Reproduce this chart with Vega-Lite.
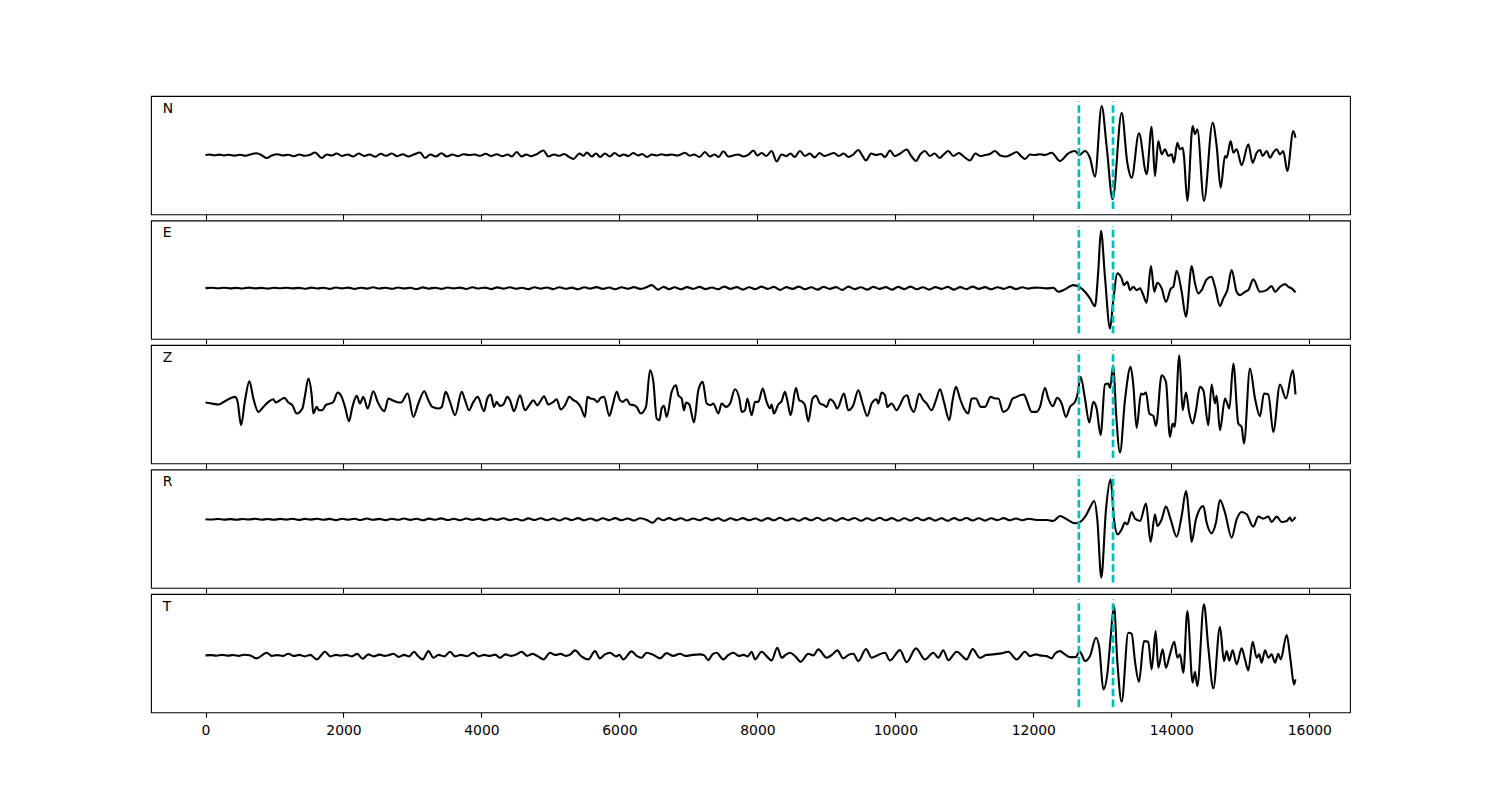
{
"$schema": "https://vega.github.io/schema/vega-lite/v6.json",
"background": "white",
"padding": {"left": 150, "top": 95, "right": 0, "bottom": 0},
"bounds": "flush",
"spacing": 5.5,
"config": {"view": {"stroke": "black", "strokeWidth": 1.1}, "text": {"font": "DejaVu Sans"}},
"datasets": {
"picks": [{"t": 12660}, {"t": 13155}],
"N": [{"t":0,"a":0},{"t":60,"a":0.5},{"t":130,"a":-0.3},{"t":200,"a":0.4},{"t":270,"a":-0.5},{"t":340,"a":0.3},{"t":420,"a":-0.6},{"t":500,"a":0.2},{"t":580,"a":-0.8},{"t":650,"a":0.5},{"t":742,"a":1.8},{"t":820,"a":-0.5},{"t":887,"a":-3},{"t":960,"a":-0.5},{"t":1040,"a":0.8},{"t":1120,"a":-0.5},{"t":1200,"a":0.3},{"t":1280,"a":-1.2},{"t":1360,"a":0.5},{"t":1440,"a":-0.8},{"t":1520,"a":0.3},{"t":1588,"a":2.5},{"t":1684,"a":-3},{"t":1760,"a":0.5},{"t":1830,"a":-0.5},{"t":1902,"a":1.5},{"t":1980,"a":-1},{"t":2060,"a":0.5},{"t":2140,"a":-1.5},{"t":2220,"a":1.5},{"t":2300,"a":-1},{"t":2380,"a":0.5},{"t":2460,"a":-1.8},{"t":2540,"a":1.2},{"t":2620,"a":-0.8},{"t":2700,"a":1.5},{"t":2780,"a":-1.2},{"t":2860,"a":0.8},{"t":2940,"a":-1.5},{"t":3020,"a":0.5},{"t":3110,"a":2.5},{"t":3182,"a":-3},{"t":3260,"a":0.5},{"t":3340,"a":-1.5},{"t":3420,"a":1.8},{"t":3500,"a":-1.5},{"t":3580,"a":0.5},{"t":3660,"a":-1.2},{"t":3740,"a":0.8},{"t":3820,"a":0},{"t":3900,"a":0.5},{"t":3980,"a":-0.8},{"t":4060,"a":1.2},{"t":4140,"a":-1},{"t":4220,"a":0.8},{"t":4300,"a":-1.2},{"t":4380,"a":0.5},{"t":4440,"a":-1.5},{"t":4511,"a":3},{"t":4580,"a":-1.5},{"t":4650,"a":0.5},{"t":4720,"a":-1.2},{"t":4800,"a":0.8},{"t":4898,"a":4.5},{"t":4970,"a":-1.5},{"t":5050,"a":0.5},{"t":5130,"a":-0.8},{"t":5200,"a":1},{"t":5260,"a":-1.5},{"t":5333,"a":-4},{"t":5420,"a":1.5},{"t":5480,"a":-0.8},{"t":5526,"a":2.5},{"t":5600,"a":-1.5},{"t":5660,"a":1.5},{"t":5720,"a":-2},{"t":5790,"a":1.5},{"t":5860,"a":-1.5},{"t":5930,"a":2},{"t":6000,"a":-1},{"t":6060,"a":0.5},{"t":6130,"a":-1},{"t":6200,"a":2},{"t":6270,"a":-0.5},{"t":6330,"a":1},{"t":6400,"a":-2},{"t":6470,"a":0.5},{"t":6540,"a":-0.5},{"t":6610,"a":0.8},{"t":6680,"a":-0.3},{"t":6760,"a":0.5},{"t":6830,"a":-0.5},{"t":6880,"a":0.3},{"t":6950,"a":2.2},{"t":7020,"a":-0.8},{"t":7080,"a":0.5},{"t":7160,"a":-2},{"t":7240,"a":3},{"t":7310,"a":-1.5},{"t":7380,"a":0.5},{"t":7440,"a":-2},{"t":7506,"a":3.8},{"t":7580,"a":-1.5},{"t":7650,"a":-0.5},{"t":7720,"a":0.5},{"t":7800,"a":-1.5},{"t":7870,"a":0.3},{"t":7941,"a":4.5},{"t":8000,"a":-0.5},{"t":8060,"a":2},{"t":8130,"a":-1},{"t":8206,"a":4},{"t":8279,"a":-6.5},{"t":8350,"a":0.5},{"t":8420,"a":-1},{"t":8480,"a":1.5},{"t":8540,"a":-2},{"t":8617,"a":4},{"t":8690,"a":-1},{"t":8760,"a":1.5},{"t":8830,"a":-2.5},{"t":8900,"a":2},{"t":8970,"a":-1},{"t":9040,"a":0.5},{"t":9110,"a":2},{"t":9180,"a":-1},{"t":9250,"a":1.5},{"t":9320,"a":-2},{"t":9390,"a":0.5},{"t":9463,"a":5},{"t":9520,"a":-0.5},{"t":9574,"a":-5.5},{"t":9650,"a":1.5},{"t":9720,"a":0},{"t":9790,"a":1},{"t":9850,"a":-2},{"t":9922,"a":4.5},{"t":9990,"a":-1},{"t":10060,"a":1},{"t":10163,"a":5.5},{"t":10230,"a":-1},{"t":10299,"a":-6},{"t":10360,"a":0.5},{"t":10429,"a":4},{"t":10500,"a":-1},{"t":10570,"a":1.5},{"t":10640,"a":-3},{"t":10700,"a":0.5},{"t":10767,"a":4},{"t":10840,"a":-1},{"t":10920,"a":2},{"t":10990,"a":-1.5},{"t":11081,"a":-5.5},{"t":11160,"a":1.5},{"t":11230,"a":-1},{"t":11300,"a":0},{"t":11370,"a":1},{"t":11444,"a":4},{"t":11520,"a":-0.5},{"t":11600,"a":-1.5},{"t":11680,"a":0.5},{"t":11758,"a":3},{"t":11820,"a":-1},{"t":11879,"a":-4},{"t":11950,"a":0.5},{"t":12020,"a":0},{"t":12096,"a":0.7},{"t":12168,"a":0},{"t":12265,"a":2.3},{"t":12386,"a":-6},{"t":12507,"a":1.7},{"t":12603,"a":4},{"t":12666,"a":0},{"t":12748,"a":4},{"t":12821,"a":-3},{"t":12893,"a":-21.7},{"t":12990,"a":49},{"t":13062,"a":9},{"t":13149,"a":-44.3},{"t":13280,"a":42.3},{"t":13362,"a":-7.7},{"t":13425,"a":-22.7},{"t":13531,"a":21.7},{"t":13642,"a":-19.3},{"t":13715,"a":28.3},{"t":13763,"a":-21},{"t":13811,"a":14},{"t":13860,"a":0.7},{"t":13908,"a":5.7},{"t":13956,"a":-1},{"t":14005,"a":0.7},{"t":14038,"a":-7.7},{"t":14087,"a":12.3},{"t":14125,"a":5.7},{"t":14164,"a":7.3},{"t":14183,"a":-1},{"t":14232,"a":-46},{"t":14309,"a":29},{"t":14343,"a":20.7},{"t":14377,"a":25.7},{"t":14473,"a":-46},{"t":14599,"a":32.3},{"t":14657,"a":9},{"t":14715,"a":-32.7},{"t":14778,"a":-1},{"t":14802,"a":-2.7},{"t":14860,"a":14},{"t":14899,"a":2.3},{"t":14947,"a":5.7},{"t":15019,"a":-10.3},{"t":15116,"a":10.7},{"t":15179,"a":-7.7},{"t":15237,"a":2.3},{"t":15285,"a":5},{"t":15324,"a":-1},{"t":15382,"a":4},{"t":15430,"a":-2.7},{"t":15478,"a":2.3},{"t":15527,"a":5.7},{"t":15575,"a":0.7},{"t":15623,"a":4},{"t":15681,"a":-16},{"t":15768,"a":24},{"t":15800,"a":17.3}],
"E": [{"t":0,"a":0},{"t":90,"a":0.3},{"t":180,"a":-0.2},{"t":270,"a":0.4},{"t":360,"a":-0.3},{"t":450,"a":0.2},{"t":540,"a":-0.4},{"t":630,"a":0.5},{"t":720,"a":-0.3},{"t":810,"a":0.2},{"t":900,"a":-0.5},{"t":990,"a":0.3},{"t":1080,"a":-0.2},{"t":1170,"a":0.4},{"t":1260,"a":-0.3},{"t":1350,"a":0.2},{"t":1440,"a":-0.6},{"t":1530,"a":0.5},{"t":1620,"a":-0.4},{"t":1710,"a":0.3},{"t":1800,"a":-0.8},{"t":1890,"a":0.6},{"t":1980,"a":-0.3},{"t":2070,"a":0.5},{"t":2160,"a":-0.8},{"t":2250,"a":0.4},{"t":2340,"a":-0.5},{"t":2430,"a":0.8},{"t":2520,"a":-0.4},{"t":2610,"a":0.3},{"t":2700,"a":-0.7},{"t":2790,"a":0.6},{"t":2880,"a":-0.4},{"t":2970,"a":0.3},{"t":3060,"a":-0.9},{"t":3150,"a":0.7},{"t":3240,"a":-0.5},{"t":3330,"a":0.4},{"t":3420,"a":-0.8},{"t":3510,"a":0.6},{"t":3600,"a":-0.3},{"t":3690,"a":0.5},{"t":3780,"a":-0.9},{"t":3870,"a":0.8},{"t":3960,"a":-0.4},{"t":4050,"a":0.5},{"t":4140,"a":-1},{"t":4230,"a":0.7},{"t":4320,"a":-0.5},{"t":4410,"a":0.9},{"t":4500,"a":-0.6},{"t":4590,"a":0.4},{"t":4680,"a":-1},{"t":4770,"a":0.8},{"t":4860,"a":-0.5},{"t":4950,"a":0.6},{"t":5040,"a":-1},{"t":5130,"a":0.9},{"t":5220,"a":-0.6},{"t":5310,"a":0.5},{"t":5400,"a":-1.2},{"t":5490,"a":0.8},{"t":5580,"a":-0.5},{"t":5670,"a":1},{"t":5760,"a":-0.8},{"t":5850,"a":0.6},{"t":5940,"a":-1.2},{"t":6030,"a":0.9},{"t":6120,"a":-0.6},{"t":6210,"a":1},{"t":6300,"a":-0.8},{"t":6380,"a":0.5},{"t":6470,"a":3},{"t":6560,"a":-1.5},{"t":6640,"a":1.2},{"t":6720,"a":-1},{"t":6800,"a":0.8},{"t":6890,"a":-1.2},{"t":6980,"a":1},{"t":7070,"a":-0.8},{"t":7160,"a":1.2},{"t":7250,"a":-1},{"t":7340,"a":0.6},{"t":7430,"a":-1.2},{"t":7520,"a":1.5},{"t":7610,"a":-0.8},{"t":7700,"a":1},{"t":7790,"a":-1.5},{"t":7880,"a":0.8},{"t":7970,"a":-1},{"t":8060,"a":1.5},{"t":8150,"a":-0.8},{"t":8240,"a":1.2},{"t":8330,"a":-1.8},{"t":8420,"a":1},{"t":8510,"a":-0.8},{"t":8600,"a":1.5},{"t":8690,"a":-1.2},{"t":8780,"a":0.8},{"t":8870,"a":-1.5},{"t":8960,"a":1.2},{"t":9050,"a":-0.8},{"t":9140,"a":1},{"t":9230,"a":-1.8},{"t":9320,"a":1.5},{"t":9410,"a":-1},{"t":9500,"a":0.8},{"t":9590,"a":-1.5},{"t":9680,"a":1.2},{"t":9770,"a":-0.8},{"t":9860,"a":1},{"t":9950,"a":-1.5},{"t":10040,"a":1.2},{"t":10130,"a":-1},{"t":10220,"a":1.5},{"t":10310,"a":-1.2},{"t":10400,"a":0.8},{"t":10490,"a":-1.5},{"t":10580,"a":1},{"t":10670,"a":-0.8},{"t":10760,"a":1.2},{"t":10850,"a":-1.5},{"t":10940,"a":1},{"t":11030,"a":-1},{"t":11120,"a":1.5},{"t":11210,"a":-0.8},{"t":11300,"a":1},{"t":11390,"a":-1.2},{"t":11480,"a":0.8},{"t":11570,"a":-0.8},{"t":11660,"a":1.2},{"t":11750,"a":-1},{"t":11840,"a":0.8},{"t":11930,"a":-0.5},{"t":12020,"a":0.5},{"t":12096,"a":0.3},{"t":12193,"a":-0.3},{"t":12289,"a":0.3},{"t":12362,"a":-3.7},{"t":12458,"a":-1.3},{"t":12579,"a":3},{"t":12666,"a":1.3},{"t":12748,"a":-3.7},{"t":12821,"a":-10.3},{"t":12893,"a":-18},{"t":12942,"a":18},{"t":12980,"a":57.3},{"t":13038,"a":11.3},{"t":13111,"a":-40.3},{"t":13159,"a":-12},{"t":13217,"a":14.7},{"t":13280,"a":9.7},{"t":13314,"a":3},{"t":13362,"a":6.3},{"t":13401,"a":-2},{"t":13449,"a":1.3},{"t":13497,"a":-2},{"t":13546,"a":-0.3},{"t":13594,"a":-7},{"t":13642,"a":-14.7},{"t":13705,"a":22},{"t":13753,"a":-3.7},{"t":13797,"a":5.3},{"t":13860,"a":-0.3},{"t":13922,"a":-13.7},{"t":13995,"a":-0.3},{"t":14029,"a":1.3},{"t":14077,"a":17.3},{"t":14150,"a":-3.7},{"t":14212,"a":-28.7},{"t":14295,"a":22},{"t":14343,"a":4.7},{"t":14391,"a":-5.3},{"t":14440,"a":-2},{"t":14512,"a":8.7},{"t":14584,"a":11.3},{"t":14633,"a":1.3},{"t":14705,"a":-18},{"t":14754,"a":-10.3},{"t":14812,"a":-2},{"t":14874,"a":18},{"t":14947,"a":-3.7},{"t":14995,"a":-7},{"t":15068,"a":-3.7},{"t":15116,"a":-2},{"t":15188,"a":8.7},{"t":15285,"a":-3.7},{"t":15382,"a":-2},{"t":15454,"a":2},{"t":15503,"a":-3.7},{"t":15575,"a":1.3},{"t":15648,"a":4},{"t":15696,"a":1.3},{"t":15744,"a":-0.3},{"t":15800,"a":-4.3}],
"Z": [{"t":0,"a":0.7},{"t":90,"a":-0.3},{"t":186,"a":-1.3},{"t":283,"a":2},{"t":370,"a":5.3},{"t":428,"a":6.3},{"t":466,"a":1.3},{"t":515,"a":-22},{"t":573,"a":3},{"t":636,"a":22},{"t":694,"a":4.7},{"t":766,"a":-8.7},{"t":839,"a":-3.7},{"t":911,"a":1.3},{"t":984,"a":4},{"t":1017,"a":0.7},{"t":1080,"a":3},{"t":1143,"a":5.3},{"t":1201,"a":0.7},{"t":1259,"a":-2},{"t":1322,"a":-10.3},{"t":1404,"a":-5.3},{"t":1443,"a":8},{"t":1491,"a":24.7},{"t":1539,"a":8},{"t":1563,"a":-10.3},{"t":1612,"a":-3.7},{"t":1645,"a":-7},{"t":1694,"a":-7},{"t":1742,"a":-2},{"t":1805,"a":-0.3},{"t":1853,"a":1.3},{"t":1916,"a":10.7},{"t":1974,"a":6.3},{"t":2022,"a":-3.7},{"t":2080,"a":-18},{"t":2129,"a":-3.7},{"t":2192,"a":7.3},{"t":2240,"a":-0.3},{"t":2288,"a":6.3},{"t":2351,"a":-5.3},{"t":2433,"a":12},{"t":2496,"a":1.3},{"t":2593,"a":-8},{"t":2651,"a":4.7},{"t":2709,"a":3},{"t":2771,"a":1.3},{"t":2834,"a":0.7},{"t":2931,"a":9.7},{"t":3013,"a":-13.7},{"t":3085,"a":-0.3},{"t":3172,"a":12},{"t":3230,"a":3},{"t":3288,"a":-3.7},{"t":3375,"a":-5.3},{"t":3424,"a":-3.7},{"t":3482,"a":11.3},{"t":3544,"a":1.3},{"t":3617,"a":-12},{"t":3714,"a":11.3},{"t":3762,"a":3},{"t":3820,"a":-7},{"t":3883,"a":1.3},{"t":3946,"a":6.3},{"t":4037,"a":-8},{"t":4085,"a":4.7},{"t":4134,"a":8.7},{"t":4182,"a":-3.7},{"t":4221,"a":1.3},{"t":4269,"a":-2.7},{"t":4317,"a":-1.3},{"t":4375,"a":6.3},{"t":4414,"a":3},{"t":4472,"a":-8},{"t":4559,"a":8},{"t":4631,"a":-7},{"t":4694,"a":-2},{"t":4752,"a":3},{"t":4810,"a":-2},{"t":4849,"a":1.3},{"t":4907,"a":7},{"t":4970,"a":-1.3},{"t":5042,"a":1.3},{"t":5090,"a":4},{"t":5148,"a":-6.3},{"t":5211,"a":-2},{"t":5274,"a":6.3},{"t":5332,"a":3},{"t":5390,"a":0.7},{"t":5438,"a":-3.7},{"t":5501,"a":-13.7},{"t":5535,"a":6.3},{"t":5583,"a":4.7},{"t":5632,"a":4},{"t":5680,"a":1.3},{"t":5728,"a":5.3},{"t":5776,"a":6.3},{"t":5854,"a":-12.7},{"t":5902,"a":-2},{"t":5960,"a":11.3},{"t":6008,"a":3},{"t":6047,"a":1.3},{"t":6105,"a":4},{"t":6153,"a":-1.3},{"t":6211,"a":-2},{"t":6250,"a":-3.7},{"t":6308,"a":-10.3},{"t":6385,"a":-3.7},{"t":6443,"a":33},{"t":6492,"a":21.3},{"t":6540,"a":-15.3},{"t":6579,"a":-17},{"t":6612,"a":-5.3},{"t":6646,"a":-2.7},{"t":6685,"a":-13.7},{"t":6757,"a":11.3},{"t":6820,"a":18},{"t":6854,"a":8},{"t":6902,"a":4.7},{"t":6936,"a":-7},{"t":6965,"a":0.7},{"t":7013,"a":-1.3},{"t":7081,"a":-19.3},{"t":7144,"a":13},{"t":7207,"a":21.3},{"t":7265,"a":-0.3},{"t":7323,"a":-2},{"t":7361,"a":-0.3},{"t":7434,"a":-10.3},{"t":7482,"a":-0.3},{"t":7545,"a":-3.7},{"t":7603,"a":-0.3},{"t":7675,"a":14},{"t":7738,"a":4.7},{"t":7772,"a":-8.7},{"t":7820,"a":-7},{"t":7854,"a":4.7},{"t":7917,"a":-12},{"t":7965,"a":1.3},{"t":8013,"a":1.3},{"t":8077,"a":14.7},{"t":8134,"a":1.3},{"t":8182,"a":-5.3},{"t":8206,"a":-1.3},{"t":8240,"a":-10.3},{"t":8303,"a":-1.3},{"t":8351,"a":2},{"t":8399,"a":11.3},{"t":8433,"a":3},{"t":8482,"a":-12},{"t":8559,"a":15.3},{"t":8607,"a":3},{"t":8655,"a":1.3},{"t":8689,"a":-2},{"t":8738,"a":-18},{"t":8800,"a":4.7},{"t":8849,"a":7.3},{"t":8907,"a":-0.3},{"t":8965,"a":-2},{"t":9003,"a":-3.7},{"t":9052,"a":4},{"t":9110,"a":0.7},{"t":9158,"a":-5.3},{"t":9255,"a":9.7},{"t":9317,"a":-7},{"t":9390,"a":-2},{"t":9462,"a":13},{"t":9525,"a":-0.3},{"t":9593,"a":-12.7},{"t":9656,"a":-0.3},{"t":9728,"a":4},{"t":9752,"a":-0.3},{"t":9801,"a":10.7},{"t":9849,"a":8},{"t":9883,"a":-3.7},{"t":9946,"a":-0.3},{"t":10018,"a":-7},{"t":10066,"a":-2},{"t":10124,"a":6.3},{"t":10173,"a":8},{"t":10211,"a":-2},{"t":10269,"a":-8.7},{"t":10347,"a":9.3},{"t":10405,"a":3},{"t":10453,"a":-0.3},{"t":10525,"a":-7},{"t":10588,"a":3},{"t":10646,"a":14},{"t":10704,"a":1.3},{"t":10782,"a":-17},{"t":10830,"a":3},{"t":10878,"a":16.3},{"t":10936,"a":4.7},{"t":10994,"a":-5.3},{"t":11057,"a":-10.3},{"t":11105,"a":4.7},{"t":11168,"a":4.7},{"t":11236,"a":-3.7},{"t":11299,"a":-3.7},{"t":11381,"a":6.3},{"t":11444,"a":4.7},{"t":11492,"a":4.7},{"t":11564,"a":-8.7},{"t":11637,"a":-5.3},{"t":11700,"a":4.7},{"t":11758,"a":6.3},{"t":11806,"a":8},{"t":11864,"a":8.7},{"t":11903,"a":3},{"t":11975,"a":-8.7},{"t":12048,"a":-8.7},{"t":12096,"a":-3.7},{"t":12168,"a":15.3},{"t":12217,"a":4.7},{"t":12280,"a":-3},{"t":12347,"a":5.3},{"t":12410,"a":-0.3},{"t":12473,"a":-13.7},{"t":12531,"a":-3.7},{"t":12603,"a":1.3},{"t":12637,"a":8},{"t":12686,"a":26.3},{"t":12748,"a":4.7},{"t":12811,"a":-19.3},{"t":12869,"a":1.3},{"t":12917,"a":-5.3},{"t":12975,"a":-32},{"t":13038,"a":18.7},{"t":13087,"a":19.7},{"t":13111,"a":15.3},{"t":13159,"a":38},{"t":13198,"a":-8.7},{"t":13256,"a":-49.3},{"t":13328,"a":3},{"t":13410,"a":36.3},{"t":13449,"a":18},{"t":13497,"a":-24.7},{"t":13560,"a":9.7},{"t":13594,"a":8.7},{"t":13633,"a":10.7},{"t":13681,"a":-10.3},{"t":13739,"a":-12.7},{"t":13777,"a":-22.7},{"t":13860,"a":28},{"t":13922,"a":21.3},{"t":13980,"a":-33.7},{"t":14019,"a":-20.3},{"t":14048,"a":-23.7},{"t":14116,"a":48},{"t":14164,"a":-7},{"t":14212,"a":10.7},{"t":14261,"a":-10.3},{"t":14309,"a":-20.3},{"t":14357,"a":-7},{"t":14415,"a":16.3},{"t":14464,"a":13},{"t":14536,"a":-22},{"t":14584,"a":18.7},{"t":14633,"a":-0.3},{"t":14657,"a":7.3},{"t":14705,"a":-27},{"t":14778,"a":4.7},{"t":14841,"a":-5.3},{"t":14899,"a":39.7},{"t":14971,"a":-20.3},{"t":15019,"a":-23.7},{"t":15053,"a":-40.3},{"t":15140,"a":34.7},{"t":15213,"a":4.7},{"t":15285,"a":-13},{"t":15343,"a":9.7},{"t":15406,"a":8.7},{"t":15478,"a":-28.7},{"t":15575,"a":18.7},{"t":15662,"a":4.7},{"t":15759,"a":33},{"t":15800,"a":8.7}],
"R": [{"t":0,"a":0},{"t":90,"a":-0.2},{"t":180,"a":0.3},{"t":270,"a":-0.3},{"t":360,"a":0.2},{"t":450,"a":-0.4},{"t":540,"a":0.3},{"t":630,"a":-0.2},{"t":720,"a":0.5},{"t":810,"a":-0.4},{"t":900,"a":0.3},{"t":990,"a":-0.5},{"t":1080,"a":0.4},{"t":1170,"a":-0.3},{"t":1260,"a":0.5},{"t":1350,"a":-0.6},{"t":1440,"a":0.4},{"t":1530,"a":-0.3},{"t":1620,"a":0.6},{"t":1710,"a":-0.5},{"t":1800,"a":0.4},{"t":1890,"a":-0.8},{"t":1980,"a":0.6},{"t":2070,"a":-0.4},{"t":2160,"a":0.5},{"t":2250,"a":-0.7},{"t":2340,"a":0.8},{"t":2430,"a":-0.5},{"t":2520,"a":0.4},{"t":2610,"a":-0.8},{"t":2700,"a":0.6},{"t":2790,"a":-0.5},{"t":2880,"a":0.8},{"t":2970,"a":-0.6},{"t":3060,"a":0.5},{"t":3150,"a":-0.9},{"t":3240,"a":0.7},{"t":3330,"a":-0.5},{"t":3420,"a":0.9},{"t":3510,"a":-0.7},{"t":3600,"a":0.5},{"t":3690,"a":-1},{"t":3780,"a":0.8},{"t":3870,"a":-0.6},{"t":3960,"a":0.7},{"t":4050,"a":-1},{"t":4140,"a":0.8},{"t":4230,"a":-0.6},{"t":4320,"a":1},{"t":4410,"a":-0.8},{"t":4500,"a":0.6},{"t":4590,"a":-1.2},{"t":4680,"a":0.9},{"t":4770,"a":-0.7},{"t":4860,"a":1},{"t":4950,"a":-1},{"t":5040,"a":0.8},{"t":5130,"a":-1.2},{"t":5220,"a":1},{"t":5310,"a":-0.8},{"t":5400,"a":1.2},{"t":5490,"a":-1},{"t":5580,"a":0.8},{"t":5670,"a":-1.3},{"t":5760,"a":1},{"t":5850,"a":-0.8},{"t":5940,"a":1.2},{"t":6030,"a":-1},{"t":6120,"a":0.8},{"t":6210,"a":-1.2},{"t":6300,"a":1},{"t":6390,"a":-0.5},{"t":6480,"a":-3.5},{"t":6560,"a":1},{"t":6640,"a":-1},{"t":6720,"a":1.2},{"t":6800,"a":-0.8},{"t":6890,"a":1},{"t":6980,"a":-1.2},{"t":7070,"a":0.8},{"t":7160,"a":-1},{"t":7250,"a":1.3},{"t":7340,"a":-0.8},{"t":7430,"a":1},{"t":7520,"a":-1.5},{"t":7610,"a":1},{"t":7700,"a":-0.8},{"t":7790,"a":1.2},{"t":7880,"a":-1},{"t":7970,"a":0.8},{"t":8060,"a":-1.5},{"t":8150,"a":1.2},{"t":8240,"a":-1},{"t":8330,"a":1.5},{"t":8420,"a":-1.2},{"t":8510,"a":0.8},{"t":8600,"a":-1.5},{"t":8690,"a":1.2},{"t":8780,"a":-1},{"t":8870,"a":1.5},{"t":8960,"a":-1.2},{"t":9050,"a":1},{"t":9140,"a":-1.5},{"t":9230,"a":1.2},{"t":9320,"a":-0.8},{"t":9410,"a":1.3},{"t":9500,"a":-1.5},{"t":9590,"a":1},{"t":9680,"a":-1.2},{"t":9770,"a":1.5},{"t":9860,"a":-1},{"t":9950,"a":1.2},{"t":10040,"a":-1.5},{"t":10130,"a":1},{"t":10220,"a":-1.2},{"t":10310,"a":1.5},{"t":10400,"a":-1},{"t":10490,"a":1.2},{"t":10580,"a":-1.3},{"t":10670,"a":1},{"t":10760,"a":-1.5},{"t":10850,"a":1.2},{"t":10940,"a":-1},{"t":11030,"a":1.3},{"t":11120,"a":-1.2},{"t":11210,"a":1},{"t":11300,"a":-1.3},{"t":11390,"a":1},{"t":11480,"a":-0.8},{"t":11570,"a":1.2},{"t":11660,"a":-1},{"t":11750,"a":0.8},{"t":11840,"a":-1},{"t":11930,"a":0.5},{"t":12020,"a":-0.5},{"t":12096,"a":-0.7},{"t":12193,"a":-0.7},{"t":12289,"a":-1.7},{"t":12386,"a":3.3},{"t":12483,"a":0},{"t":12603,"a":-4},{"t":12676,"a":-2.7},{"t":12772,"a":5},{"t":12821,"a":11.7},{"t":12884,"a":18.3},{"t":12927,"a":0},{"t":12985,"a":-58.3},{"t":13053,"a":10},{"t":13120,"a":40},{"t":13169,"a":0},{"t":13222,"a":-15},{"t":13280,"a":-10},{"t":13328,"a":-3.3},{"t":13362,"a":-5},{"t":13425,"a":7.3},{"t":13473,"a":0.7},{"t":13546,"a":-1.7},{"t":13633,"a":15.7},{"t":13700,"a":-22.7},{"t":13763,"a":5},{"t":13797,"a":-6.7},{"t":13860,"a":0},{"t":13922,"a":12.7},{"t":13990,"a":0},{"t":14077,"a":-17.3},{"t":14150,"a":3.3},{"t":14212,"a":28.3},{"t":14270,"a":-6.7},{"t":14295,"a":-22.7},{"t":14357,"a":0},{"t":14464,"a":13.3},{"t":14512,"a":-3.3},{"t":14584,"a":-14},{"t":14647,"a":-3.3},{"t":14705,"a":19.3},{"t":14778,"a":6.7},{"t":14874,"a":-18.3},{"t":14947,"a":0},{"t":15019,"a":7.3},{"t":15092,"a":5},{"t":15188,"a":-7.3},{"t":15261,"a":2.7},{"t":15333,"a":0.7},{"t":15406,"a":2.7},{"t":15454,"a":-2.7},{"t":15527,"a":2.7},{"t":15599,"a":-2.7},{"t":15672,"a":-1.7},{"t":15720,"a":1.7},{"t":15744,"a":-1.7},{"t":15800,"a":2.3}],
"T": [{"t":0,"a":0},{"t":80,"a":0.3},{"t":160,"a":-0.3},{"t":240,"a":0.5},{"t":320,"a":-0.3},{"t":400,"a":0.4},{"t":480,"a":-0.5},{"t":560,"a":0.6},{"t":640,"a":0.2},{"t":742,"a":-3},{"t":887,"a":2.7},{"t":960,"a":-0.5},{"t":1040,"a":0.3},{"t":1120,"a":-0.5},{"t":1201,"a":1.7},{"t":1280,"a":-0.5},{"t":1360,"a":0.5},{"t":1440,"a":-1},{"t":1520,"a":0.5},{"t":1612,"a":-4},{"t":1733,"a":3.7},{"t":1810,"a":-1},{"t":1890,"a":0.5},{"t":1960,"a":-0.3},{"t":2040,"a":0.5},{"t":2120,"a":-1},{"t":2200,"a":1.5},{"t":2279,"a":-3.3},{"t":2360,"a":1},{"t":2440,"a":-1},{"t":2520,"a":0.8},{"t":2600,"a":-0.5},{"t":2660,"a":0.3},{"t":2723,"a":1.7},{"t":2800,"a":-1.5},{"t":2880,"a":0.5},{"t":2950,"a":-1},{"t":3023,"a":3.7},{"t":3080,"a":-0.5},{"t":3149,"a":-4},{"t":3231,"a":4.3},{"t":3303,"a":-2.3},{"t":3380,"a":0.5},{"t":3460,"a":-1},{"t":3545,"a":3.7},{"t":3620,"a":-1},{"t":3700,"a":0.5},{"t":3790,"a":-0.8},{"t":3883,"a":2.7},{"t":3960,"a":-1},{"t":4040,"a":0.5},{"t":4120,"a":-0.5},{"t":4200,"a":0.8},{"t":4270,"a":-2.3},{"t":4350,"a":1},{"t":4430,"a":-0.5},{"t":4510,"a":1},{"t":4583,"a":3.7},{"t":4660,"a":-0.5},{"t":4740,"a":1.5},{"t":4820,"a":-1},{"t":4898,"a":-4},{"t":4994,"a":2.7},{"t":5070,"a":0.5},{"t":5150,"a":1.5},{"t":5220,"a":-0.5},{"t":5290,"a":1},{"t":5357,"a":5},{"t":5450,"a":-1},{"t":5550,"a":-4},{"t":5645,"a":4.3},{"t":5718,"a":-3},{"t":5790,"a":1},{"t":5863,"a":2.7},{"t":5950,"a":-1},{"t":6000,"a":0.5},{"t":6056,"a":-4},{"t":6177,"a":4},{"t":6250,"a":-0.5},{"t":6322,"a":-2.3},{"t":6394,"a":2.7},{"t":6490,"a":0.5},{"t":6588,"a":-3},{"t":6684,"a":2.3},{"t":6780,"a":-0.5},{"t":6878,"a":1.7},{"t":6960,"a":-0.5},{"t":7060,"a":0.5},{"t":7168,"a":1},{"t":7230,"a":0},{"t":7288,"a":-4.7},{"t":7350,"a":1},{"t":7409,"a":2.7},{"t":7506,"a":-4},{"t":7580,"a":0.5},{"t":7651,"a":2.7},{"t":7730,"a":-0.5},{"t":7800,"a":0.5},{"t":7860,"a":-1},{"t":7917,"a":3.7},{"t":7965,"a":-4},{"t":8062,"a":3.7},{"t":8130,"a":-0.5},{"t":8206,"a":-5},{"t":8289,"a":7.7},{"t":8352,"a":-2.3},{"t":8410,"a":0.5},{"t":8472,"a":2.7},{"t":8550,"a":-1},{"t":8627,"a":-6.3},{"t":8738,"a":1.7},{"t":8810,"a":0},{"t":8883,"a":6},{"t":9004,"a":-2.3},{"t":9080,"a":0.5},{"t":9158,"a":5},{"t":9245,"a":-3},{"t":9320,"a":0.5},{"t":9390,"a":1.7},{"t":9463,"a":-5.7},{"t":9574,"a":6.3},{"t":9656,"a":-2.3},{"t":9750,"a":0.5},{"t":9849,"a":2.7},{"t":9922,"a":-5},{"t":10067,"a":5.3},{"t":10163,"a":-6.7},{"t":10299,"a":7},{"t":10429,"a":-4},{"t":10550,"a":2.7},{"t":10622,"a":-2.3},{"t":10695,"a":5},{"t":10767,"a":-4.7},{"t":10888,"a":3.7},{"t":11033,"a":-4},{"t":11120,"a":6.3},{"t":11226,"a":-2.3},{"t":11320,"a":0.5},{"t":11420,"a":1},{"t":11530,"a":2},{"t":11637,"a":3.7},{"t":11758,"a":-4},{"t":11879,"a":3.7},{"t":11951,"a":-0.7},{"t":12000,"a":0.5},{"t":12048,"a":1},{"t":12096,"a":0},{"t":12193,"a":-0.7},{"t":12265,"a":-3},{"t":12313,"a":1.7},{"t":12386,"a":4.3},{"t":12458,"a":1},{"t":12531,"a":-1.7},{"t":12618,"a":-1.7},{"t":12666,"a":4.3},{"t":12700,"a":1},{"t":12748,"a":-5.7},{"t":12821,"a":-0.7},{"t":12908,"a":17.7},{"t":12956,"a":7.7},{"t":13014,"a":-34},{"t":13077,"a":-15.7},{"t":13120,"a":17.7},{"t":13169,"a":49.3},{"t":13217,"a":-5.7},{"t":13280,"a":-46.3},{"t":13376,"a":22.7},{"t":13425,"a":21.7},{"t":13473,"a":-5.7},{"t":13531,"a":-26.3},{"t":13604,"a":14.3},{"t":13666,"a":13.7},{"t":13715,"a":-14},{"t":13773,"a":24.3},{"t":13811,"a":-12.3},{"t":13874,"a":6},{"t":13922,"a":-12.3},{"t":13980,"a":1},{"t":14043,"a":13.7},{"t":14087,"a":-2.3},{"t":14125,"a":1},{"t":14174,"a":-17.3},{"t":14232,"a":44.3},{"t":14309,"a":-27.3},{"t":14343,"a":-16.3},{"t":14377,"a":-30.7},{"t":14473,"a":51},{"t":14536,"a":7.7},{"t":14609,"a":-33},{"t":14705,"a":28.7},{"t":14763,"a":-5.7},{"t":14802,"a":4.3},{"t":14841,"a":-5},{"t":14889,"a":5},{"t":14947,"a":-9},{"t":15019,"a":7},{"t":15068,"a":-4},{"t":15116,"a":-15},{"t":15179,"a":13.7},{"t":15237,"a":-2.3},{"t":15275,"a":1},{"t":15309,"a":-7.3},{"t":15358,"a":5},{"t":15406,"a":-2.3},{"t":15454,"a":1},{"t":15503,"a":-7.3},{"t":15551,"a":1.7},{"t":15585,"a":-4},{"t":15672,"a":20.3},{"t":15730,"a":-5.7},{"t":15778,"a":-29},{"t":15800,"a":-24}]
},
"vconcat": [
{
"width": 1199, "height": 118.4,
"layer": [
{"data": {"name": "N"}, "mark": {"type": "line", "color": "black", "strokeWidth": 2.1, "interpolate": "monotone"},
 "encoding": {"x": {"field": "t", "type": "quantitative", "scale": {"domain": [-790, 16590], "nice": false, "zero": false}, "axis": {"values": [0,2000,4000,6000,8000,10000,12000,14000,16000], "labels": false, "ticks": true, "tickSize": 4.9, "tickWidth": 1.1, "tickColor": "black", "domain": false, "grid": false, "title": null}},
  "y": {"field": "a", "type": "quantitative", "scale": {"domain": [-59.4, 59], "nice": false, "zero": false}, "axis": null}}},
{"data": {"name": "picks"}, "mark": {"type": "rule", "color": "#00bfbf", "strokeWidth": 2.7, "strokeDash": [7.5, 3.2]},
 "encoding": {"x": {"field": "t", "type": "quantitative"}, "y": {"datum": -54}, "y2": {"datum": 53.6}}},
{"data": {"values": [{"label": "N"}]}, "mark": {"type": "text", "align": "left", "baseline": "alphabetic", "font": "DejaVu Sans", "fontSize": 13.9, "color": "black"},
 "encoding": {"x": {"datum": -620}, "y": {"datum": 42.5}, "text": {"field": "label"}}}
]
},
{
"width": 1199, "height": 118.4,
"layer": [
{"data": {"name": "E"}, "mark": {"type": "line", "color": "black", "strokeWidth": 2.1, "interpolate": "monotone"},
 "encoding": {"x": {"field": "t", "type": "quantitative", "scale": {"domain": [-790, 16590], "nice": false, "zero": false}, "axis": {"values": [0,2000,4000,6000,8000,10000,12000,14000,16000], "labels": false, "ticks": true, "tickSize": 4.9, "tickWidth": 1.1, "tickColor": "black", "domain": false, "grid": false, "title": null}},
  "y": {"field": "a", "type": "quantitative", "scale": {"domain": [-50.8, 67.6], "nice": false, "zero": false}, "axis": null}}},
{"data": {"name": "picks"}, "mark": {"type": "rule", "color": "#00bfbf", "strokeWidth": 2.7, "strokeDash": [7.5, 3.2]},
 "encoding": {"x": {"field": "t", "type": "quantitative"}, "y": {"datum": -45.4}, "y2": {"datum": 62.2}}},
{"data": {"values": [{"label": "E"}]}, "mark": {"type": "text", "align": "left", "baseline": "alphabetic", "font": "DejaVu Sans", "fontSize": 13.9, "color": "black"},
 "encoding": {"x": {"datum": -620}, "y": {"datum": 51.1}, "text": {"field": "label"}}}
]
},
{
"width": 1199, "height": 118.4,
"layer": [
{"data": {"name": "Z"}, "mark": {"type": "line", "color": "black", "strokeWidth": 2.1, "interpolate": "monotone"},
 "encoding": {"x": {"field": "t", "type": "quantitative", "scale": {"domain": [-790, 16590], "nice": false, "zero": false}, "axis": {"values": [0,2000,4000,6000,8000,10000,12000,14000,16000], "labels": false, "ticks": true, "tickSize": 4.9, "tickWidth": 1.1, "tickColor": "black", "domain": false, "grid": false, "title": null}},
  "y": {"field": "a", "type": "quantitative", "scale": {"domain": [-60.2, 58.2], "nice": false, "zero": false}, "axis": null}}},
{"data": {"name": "picks"}, "mark": {"type": "rule", "color": "#00bfbf", "strokeWidth": 2.7, "strokeDash": [7.5, 3.2]},
 "encoding": {"x": {"field": "t", "type": "quantitative"}, "y": {"datum": -54.8}, "y2": {"datum": 52.8}}},
{"data": {"values": [{"label": "Z"}]}, "mark": {"type": "text", "align": "left", "baseline": "alphabetic", "font": "DejaVu Sans", "fontSize": 13.9, "color": "black"},
 "encoding": {"x": {"datum": -620}, "y": {"datum": 41.7}, "text": {"field": "label"}}}
]
},
{
"width": 1199, "height": 118.4,
"layer": [
{"data": {"name": "R"}, "mark": {"type": "line", "color": "black", "strokeWidth": 2.1, "interpolate": "monotone"},
 "encoding": {"x": {"field": "t", "type": "quantitative", "scale": {"domain": [-790, 16590], "nice": false, "zero": false}, "axis": {"values": [0,2000,4000,6000,8000,10000,12000,14000,16000], "labels": false, "ticks": true, "tickSize": 4.9, "tickWidth": 1.1, "tickColor": "black", "domain": false, "grid": false, "title": null}},
  "y": {"field": "a", "type": "quantitative", "scale": {"domain": [-68.6, 49.8], "nice": false, "zero": false}, "axis": null}}},
{"data": {"name": "picks"}, "mark": {"type": "rule", "color": "#00bfbf", "strokeWidth": 2.7, "strokeDash": [7.5, 3.2]},
 "encoding": {"x": {"field": "t", "type": "quantitative"}, "y": {"datum": -63.2}, "y2": {"datum": 44.4}}},
{"data": {"values": [{"label": "R"}]}, "mark": {"type": "text", "align": "left", "baseline": "alphabetic", "font": "DejaVu Sans", "fontSize": 13.9, "color": "black"},
 "encoding": {"x": {"datum": -620}, "y": {"datum": 33.3}, "text": {"field": "label"}}}
]
},
{
"width": 1199, "height": 118.4,
"layer": [
{"data": {"name": "T"}, "mark": {"type": "line", "color": "black", "strokeWidth": 2.1, "interpolate": "monotone"},
 "encoding": {"x": {"field": "t", "type": "quantitative", "scale": {"domain": [-790, 16590], "nice": false, "zero": false}, "axis": {"values": [0,2000,4000,6000,8000,10000,12000,14000,16000], "labels": true, "format": "d", "labelFont": "DejaVu Sans", "labelFontSize": 13.9, "labelColor": "black", "labelPadding": 6.5, "labelFlush": false, "labelOverlap": false, "ticks": true, "tickSize": 4.9, "tickWidth": 1.1, "tickColor": "black", "domain": false, "grid": false, "title": null}},
  "y": {"field": "a", "type": "quantitative", "scale": {"domain": [-57, 61.4], "nice": false, "zero": false}, "axis": null}}},
{"data": {"name": "picks"}, "mark": {"type": "rule", "color": "#00bfbf", "strokeWidth": 2.7, "strokeDash": [7.5, 3.2]},
 "encoding": {"x": {"field": "t", "type": "quantitative"}, "y": {"datum": -51.6}, "y2": {"datum": 56}}},
{"data": {"values": [{"label": "T"}]}, "mark": {"type": "text", "align": "left", "baseline": "alphabetic", "font": "DejaVu Sans", "fontSize": 13.9, "color": "black"},
 "encoding": {"x": {"datum": -620}, "y": {"datum": 44.9}, "text": {"field": "label"}}}
]
}
]
}
